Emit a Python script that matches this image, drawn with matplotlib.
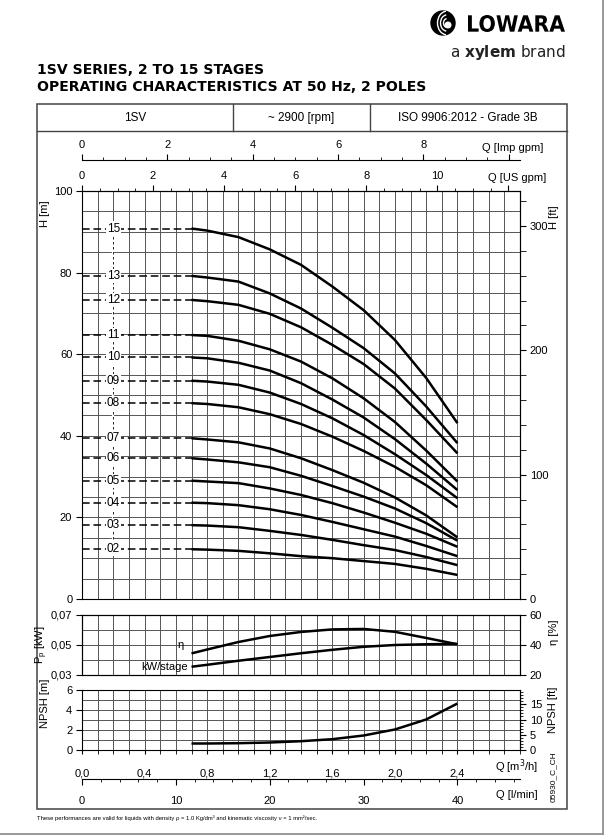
import numpy as np
import matplotlib
matplotlib.use('Agg')
import matplotlib.pyplot as plt
from matplotlib.ticker import MultipleLocator, FixedLocator
from matplotlib.lines import Line2D
from matplotlib.patches import Rectangle, Circle, Arc, PathPatch
from matplotlib.textpath import TextPath
from matplotlib.font_manager import FontProperties
from matplotlib.transforms import Affine2D, IdentityTransform

plt.rcParams['font.family'] = ['Liberation Sans', 'DejaVu Sans']

# --- data ---
q_pts = [0.7, 0.8, 1.0, 1.2, 1.4, 1.6, 1.8, 2.0, 2.2, 2.4]   # Q [m3/h]

stage_labels = ['02', '03', '04', '05', '06', '07', '08', '09', '10', '11', '12', '13', '15']
head_02 = [12.2, 12.1, 11.8, 11.2, 10.5, 10.0, 9.3, 8.6, 7.4, 5.9]
head_03 = [18.1, 18.0, 17.6, 16.7, 15.7, 14.5, 13.2, 12.0, 10.3, 8.3]
head_04 = [23.6, 23.5, 23.0, 22.0, 20.6, 18.9, 17.1, 15.3, 13.0, 10.5]
head_05 = [29.0, 28.8, 28.4, 27.1, 25.5, 23.5, 21.2, 18.7, 16.0, 12.8]
head_06 = [34.5, 34.2, 33.5, 32.3, 30.2, 27.7, 25.1, 22.2, 18.6, 14.3]
head_07 = [39.4, 39.1, 38.4, 36.9, 34.5, 31.6, 28.5, 24.9, 20.5, 15.1]
head_08 = [48.0, 47.8, 47.0, 45.3, 42.9, 39.8, 36.3, 32.4, 27.9, 22.5]
head_09 = [53.5, 53.3, 52.5, 50.6, 47.8, 44.3, 40.2, 35.5, 30.4, 24.7]
head_10 = [59.2, 59.0, 57.9, 56.0, 52.9, 48.9, 44.5, 39.2, 33.2, 26.7]
head_11 = [64.7, 64.5, 63.3, 61.2, 58.2, 54.1, 49.2, 43.4, 36.4, 28.8]
head_12 = [73.3, 73.0, 72.1, 69.9, 66.6, 62.3, 57.6, 51.6, 43.9, 35.7]
head_13 = [79.2, 78.8, 77.8, 74.9, 71.2, 66.5, 61.5, 55.3, 47.2, 38.2]
head_15 = [90.8, 90.3, 88.7, 85.7, 81.9, 76.6, 70.8, 63.5, 54.2, 43.1]
head_curves = [head_02, head_03, head_04, head_05, head_06, head_07, head_08,
               head_09, head_10, head_11, head_12, head_13, head_15]

eta_pct = [34.4, 37.0, 42.0, 46.0, 48.7, 50.4, 50.7, 48.8, 44.7, 40.5]
kw_stage = [0.0355, 0.0368, 0.0395, 0.0420, 0.0445, 0.0468, 0.0488, 0.0500, 0.0505, 0.0507]
npsh_m = [0.65, 0.65, 0.68, 0.75, 0.88, 1.08, 1.45, 2.05, 3.05, 4.65]

header_cells = ['1SV', '~ 2900 [rpm]', 'ISO 9906:2012 - Grade 3B']

# --- figure helpers (pixel coords of the 605x839 page) ---
W, H = 605, 839
def fx(x):
    return x / W
def fy(y):
    return 1 - y / H

GRID = dict(color='#555555', lw=0.7)
CURVE = dict(color='black', lw=1.8, solid_capstyle='butt', zorder=4)
QMAX = 2.8
L, R = 82, 520

fig = plt.figure(figsize=(W / 100, H / 100), dpi=100)

# page border and frame
fig.add_artist(Line2D([fx(603), fx(603)], [fy(0), fy(834)], color='#888888', lw=1.2))
fig.add_artist(Line2D([fx(0), fx(603)], [fy(834), fy(834)], color='#888888', lw=1.2))
fig.add_artist(Rectangle((fx(37), fy(809)), (567 - 37) / W, (809 - 104) / H,
                         transform=fig.transFigure, fill=False, ec='#444444', lw=1.1))
fig.add_artist(Line2D([fx(37), fx(567)], [fy(131), fy(131)], color='#444444', lw=1.0))
for xd in (233, 370):
    fig.add_artist(Line2D([fx(xd), fx(xd)], [fy(104), fy(131)], color='#444444', lw=1.0))
for xc, txt in zip((135, 301, 468), header_cells):
    fig.text(fx(xc), fy(118), txt, ha='center', va='center', fontsize=8.5)

# titles
fig.text(fx(37), fy(70), '1SV SERIES, 2 TO 15 STAGES', fontsize=10.1,
         fontweight='bold', family='DejaVu Sans', va='center')
fig.text(fx(37), fy(87), 'OPERATING CHARACTERISTICS AT 50 Hz, 2 POLES', fontsize=10.1,
         fontweight='bold', family='DejaVu Sans', va='center')

# logo: condensed heavy word mark fitted into its box
tp = TextPath((0, 0), 'LOWARA', size=20, prop=FontProperties(family='DejaVu Sans', weight='bold'))
bb = tp.get_extents()
word_tr = (Affine2D().translate(-bb.x0, -bb.y0)
           .scale(97 / bb.width, 17 / bb.height).translate(468, H - 32))
fig.add_artist(PathPatch(word_tr.transform_path(tp), fc='black', ec='none',
                         transform=IdentityTransform()))
fig.text(fx(566), fy(52), r'a $\mathbf{xylem}$ brand', ha='right', va='center',
         fontsize=11, family='DejaVu Sans', color='#222222')
ax_logo = fig.add_axes([fx(428), fy(38), 30 / W, 30 / H])
ax_logo.set_xlim(-15, 15)
ax_logo.set_ylim(-15, 15)
ax_logo.set_aspect('equal')
ax_logo.axis('off')
ax_logo.add_patch(Circle((0, 0), 12, color='black'))
for r in (3.5, 6.5, 9.5):
    ax_logo.add_patch(Arc((4, 0), 2 * r, 2.5 * r, theta1=95, theta2=265, color='white', lw=1.0))
ax_logo.add_patch(Circle((5, -2), 2.8, color='white'))

# --- head panel ---
ax_h = fig.add_axes([fx(L), fy(599), (R - L) / W, (599 - 191) / H])
ax_h.set_xlim(0, QMAX)
ax_h.set_ylim(0, 100)
ax_h.xaxis.set_major_locator(MultipleLocator(0.1))
ax_h.tick_params(axis='x', length=0, labelbottom=False)
ax_h.yaxis.set_major_locator(MultipleLocator(20))
ax_h.yaxis.set_minor_locator(MultipleLocator(5))
ax_h.tick_params(axis='y', which='major', length=4, labelsize=8, pad=3)
ax_h.tick_params(axis='y', which='minor', length=0)
ax_h.grid(True, which='both', **GRID)
ax_h.set_axisbelow(True)

for lab, heads in zip(stage_labels, head_curves):
    ax_h.plot(q_pts, heads, **CURVE)
    ax_h.plot([0, q_pts[0]], [heads[0], heads[0]], color='black', lw=1.1,
              ls=(0, (5, 2.5)), zorder=3)
    ax_h.text(0.2, heads[0], lab, ha='center', va='center', fontsize=8.5, zorder=6,
              bbox=dict(fc='white', ec='none', pad=0.8))
ax_h.plot([0.2, 0.2], [head_02[0], head_15[0]], color='white', lw=1.6, zorder=2)
ax_h.plot([0.2, 0.2], [head_02[0], head_15[0]], color='black', lw=0.6,
          ls=(0, (3, 3)), zorder=2.5)

ft = 0.3048
ax_hft = ax_h.secondary_yaxis('right', functions=(lambda m: m / ft, lambda f: f * ft))
ax_hft.set_yticks([0, 100, 200, 300])
ax_hft.yaxis.set_minor_locator(MultipleLocator(20))
ax_hft.tick_params(which='major', length=4, labelsize=8, pad=3)
ax_hft.tick_params(which='minor', length=4)

us = 0.2271247
ax_us = ax_h.secondary_xaxis('top', functions=(lambda q: q / us, lambda g: g * us))
ax_us.set_xticks([0, 2, 4, 6, 8, 10, 12], ['0', '2', '4', '6', '8', '10', ''])
ax_us.xaxis.set_minor_locator(MultipleLocator(0.5))
ax_us.tick_params(which='major', length=4, labelsize=8, pad=3)
ax_us.tick_params(which='minor', length=2.5)

imp = 0.272765
ax_imp = ax_h.secondary_xaxis(1 + 31 / 408, functions=(lambda q: q / imp, lambda g: g * imp))
ax_imp.set_xticks([0, 2, 4, 6, 8, 10], ['0', '2', '4', '6', '8', ''])
ax_imp.xaxis.set_minor_locator(MultipleLocator(0.5))
ax_imp.tick_params(which='major', length=4, labelsize=8, pad=3)
ax_imp.tick_params(which='minor', length=2.5)

fig.text(fx(513), fy(148), 'Q [Imp gpm]', ha='center', va='center', fontsize=8)
fig.text(fx(517), fy(178), 'Q [US gpm]', ha='center', va='center', fontsize=8)
fig.text(fx(45), fy(214), 'H [m]', rotation=90, ha='center', va='center', fontsize=8)
fig.text(fx(554), fy(217), 'H [ft]', rotation=90, ha='center', va='center', fontsize=8)

# --- efficiency / power panel ---
ax_e = fig.add_axes([fx(L), fy(675), (R - L) / W, 60 / H])
ax_e.set_xlim(0, QMAX)
ax_e.set_ylim(0.03, 0.07)
ax_e.xaxis.set_major_locator(MultipleLocator(0.1))
ax_e.tick_params(axis='x', length=0, labelbottom=False)
ax_e.set_yticks([0.03, 0.05, 0.07], ['0,03', '0,05', '0,07'])
ax_e.yaxis.set_minor_locator(MultipleLocator(0.01))
ax_e.tick_params(axis='y', which='major', length=4, labelsize=8, pad=3)
ax_e.tick_params(axis='y', which='minor', length=0)
ax_e.grid(True, which='both', **GRID)
ax_e.set_axisbelow(True)
ax_e.plot(q_pts, kw_stage, **CURVE)

ax_eta = ax_e.twinx()
ax_eta.set_ylim(20, 60)
ax_eta.set_yticks([20, 40, 60])
ax_eta.tick_params(length=4, labelsize=8, pad=3)
ax_eta.plot(q_pts, eta_pct, **CURVE)

ax_e.text(0.65, 0.0502, 'η', ha='right', va='center', fontsize=8)
ax_e.text(0.68, 0.0354, 'kW/stage', ha='right', va='center', fontsize=8)
fig.text(fx(42), fy(645), r'P$_\mathregular{p}$ [kW]', rotation=90, ha='center', va='center', fontsize=8)
fig.text(fx(554), fy(632), 'η [%]', rotation=90, ha='center', va='center', fontsize=8)

# --- NPSH panel ---
ax_n = fig.add_axes([fx(L), fy(750), (R - L) / W, 60 / H])
ax_n.set_xlim(0, QMAX)
ax_n.set_ylim(0, 6)
q_major = [0.0, 0.4, 0.8, 1.2, 1.6, 2.0, 2.4]
ax_n.xaxis.set_major_locator(FixedLocator(q_major))
ax_n.set_xticklabels([f'{q:.1f}'.replace('.', ',') for q in q_major])
ax_n.xaxis.set_minor_locator(MultipleLocator(0.1))
ax_n.tick_params(axis='x', which='both', length=3, labelsize=8, pad=10)
ax_n.set_yticks([0, 2, 4, 6])
ax_n.yaxis.set_minor_locator(MultipleLocator(1))
ax_n.tick_params(axis='y', which='major', length=4, labelsize=8, pad=3)
ax_n.tick_params(axis='y', which='minor', length=0)
ax_n.grid(True, which='both', **GRID)
ax_n.set_axisbelow(True)
ax_n.plot(q_pts, npsh_m, **CURVE)

ax_nft = ax_n.secondary_yaxis('right', functions=(lambda m: m / ft, lambda f: f * ft))
ax_nft.set_yticks([0, 5, 10, 15])
ax_nft.yaxis.set_minor_locator(MultipleLocator(1))
ax_nft.tick_params(which='major', length=4, labelsize=8, pad=3)
ax_nft.tick_params(which='minor', length=2.5)

ax_lm = ax_n.secondary_xaxis(-29 / 60, functions=(lambda q: q * 1000 / 60, lambda v: v * 60 / 1000))
ax_lm.set_xticks([0, 10, 20, 30, 40])
ax_lm.xaxis.set_minor_locator(MultipleLocator(2))
ax_lm.tick_params(which='major', length=4, labelsize=8, pad=8)
ax_lm.tick_params(which='minor', length=2.5)

fig.text(fx(45), fy(703), 'NPSH [m]', rotation=90, ha='center', va='center', fontsize=8)
fig.text(fx(553), fy(710), 'NPSH [ft]', rotation=90, ha='center', va='center', fontsize=8)
fig.text(fx(517), fy(767), 'Q [m$^3$/h]', ha='center', va='center', fontsize=8)
fig.text(fx(517), fy(795), 'Q [l/min]', ha='center', va='center', fontsize=8)
fig.text(fx(553), fy(777), '05930_C_CH', rotation=90, ha='center', va='center', fontsize=6)

fig.text(fx(37), fy(818),
         'These performances are valid for liquids with density ρ = 1.0 Kg/dm³ and '
         'kinematic viscosity ν = 1 mm²/sec.', va='center', fontsize=4.2)

fig.savefig('out.png', dpi=100)
